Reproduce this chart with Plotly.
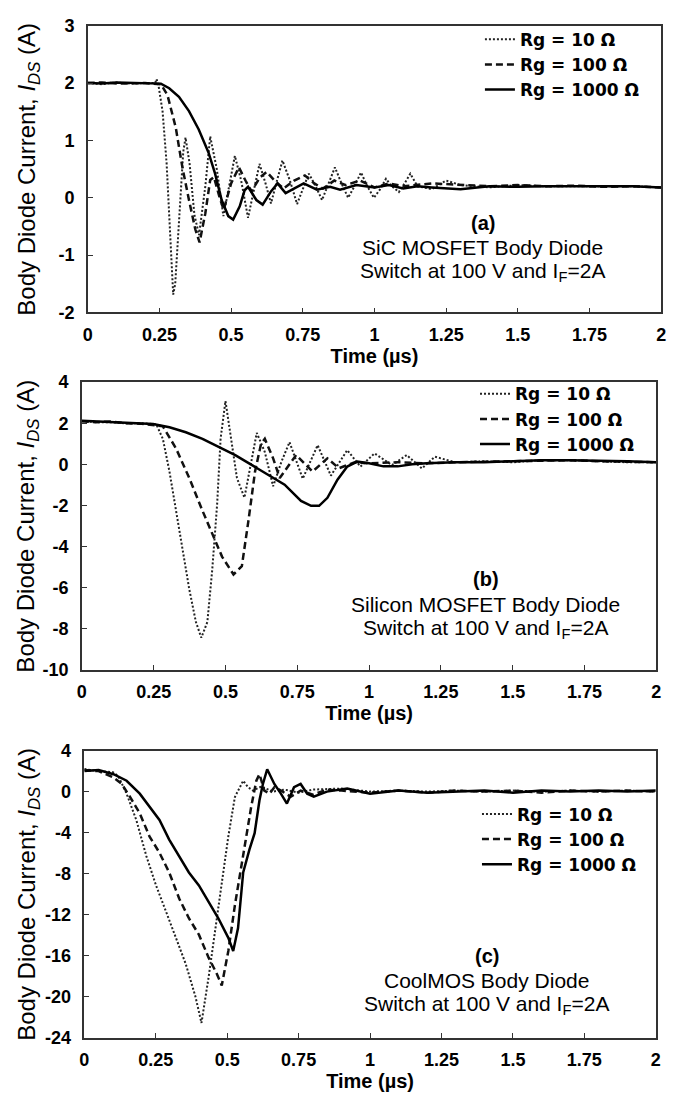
import plotly.graph_objects as go

W, H = 681, 1102

# ---------------- data (a) SiC MOSFET ----------------
t_a_10 = [0, 0.05, 0.1, 0.15, 0.2, 0.235, 0.24, 0.247, 0.261, 0.275, 0.29, 0.298, 0.305, 0.32, 0.333, 0.341,
          0.355, 0.372, 0.388, 0.41, 0.427, 0.45, 0.473, 0.493, 0.513, 0.535, 0.559, 0.58, 0.599, 0.62, 0.639,
          0.66, 0.679, 0.705, 0.73, 0.75, 0.771, 0.795, 0.817, 0.84, 0.862, 0.885, 0.908, 0.93, 0.953, 0.975,
          0.998, 1.02, 1.04, 1.06, 1.085, 1.105, 1.125, 1.15, 1.2, 1.25, 1.3, 1.4, 1.5, 1.6, 1.7, 1.8, 1.9, 2.0]
i_a_10 = [2.0, 1.98, 2.01, 1.99, 2.0, 2.0, 2.07, 1.95, 1.5, 0.6, -0.9, -1.69, -1.5, -0.2, 0.8, 1.05,
          0.6, -0.3, -0.65, 0.2, 1.07, 0.5, -0.32, 0.2, 0.73, 0.3, -0.35, 0.15, 0.59, 0.25, -0.1,
          0.3, 0.65, 0.3, -0.11, 0.15, 0.42, 0.2, -0.04, 0.25, 0.53, 0.25, 0.0, 0.2, 0.44, 0.2,
          0.0, 0.15, 0.33, 0.2, 0.1, 0.25, 0.42, 0.2, 0.15, 0.3, 0.22, 0.18, 0.22, 0.2, 0.2, 0.19, 0.2, 0.18]

t_a_100 = [0, 0.05, 0.1, 0.15, 0.2, 0.255, 0.278, 0.307, 0.33, 0.353, 0.375, 0.39, 0.41, 0.427, 0.44, 0.46,
           0.474, 0.5, 0.527, 0.55, 0.571, 0.6, 0.624, 0.655, 0.683, 0.72, 0.757, 0.79, 0.82, 0.86, 0.9,
           0.95, 1.0, 1.05, 1.1, 1.2, 1.3, 1.4, 1.5, 1.6, 1.7, 1.8, 1.9, 2.0]
i_a_100 = [2.0, 2.01, 1.99, 2.0, 2.0, 1.98, 1.79, 1.22, 0.53, -0.04, -0.55, -0.78, -0.27, 0.31, 0.36, 0.0,
           -0.21, 0.25, 0.53, 0.3, 0.11, 0.35, 0.45, 0.28, 0.16, 0.3, 0.39, 0.25, 0.16, 0.3, 0.22,
           0.3, 0.18, 0.25, 0.2, 0.25, 0.22, 0.2, 0.22, 0.2, 0.21, 0.19, 0.2, 0.18]

t_a_1000 = [0, 0.05, 0.1, 0.15, 0.2, 0.255, 0.284, 0.318, 0.353, 0.387, 0.421, 0.444, 0.467, 0.49, 0.507,
            0.53, 0.547, 0.559, 0.588, 0.61, 0.639, 0.662, 0.69, 0.719, 0.753, 0.799, 0.845, 0.88, 0.937,
            1.0, 1.05, 1.1, 1.15, 1.2, 1.3, 1.4, 1.5, 1.6, 1.7, 1.8, 1.9, 2.0]
i_a_1000 = [2.0, 1.99, 2.01, 2.0, 2.0, 1.99, 1.91, 1.76, 1.51, 1.19, 0.79, 0.42, -0.04, -0.32, -0.38,
            -0.15, 0.13, 0.19, -0.04, -0.12, 0.11, 0.25, 0.08, 0.16, 0.25, 0.14, 0.19, 0.14, 0.22,
            0.18, 0.22, 0.16, 0.2, 0.18, 0.15, 0.2, 0.19, 0.2, 0.2, 0.19, 0.2, 0.18]

# ---------------- data (b) Silicon MOSFET ----------------
t_b_10 = [0, 0.05, 0.1, 0.15, 0.2, 0.259, 0.282, 0.305, 0.328, 0.351, 0.374, 0.397, 0.416, 0.437, 0.454,
          0.471, 0.483, 0.5, 0.517, 0.54, 0.566, 0.586, 0.609, 0.637, 0.666, 0.695, 0.723, 0.769, 0.821,
          0.867, 0.924, 0.97, 1.019, 1.08, 1.131, 1.184, 1.229, 1.3, 1.4, 1.5, 1.6, 1.7, 1.8, 1.9, 2.0]
i_b_10 = [2.1, 2.05, 2.05, 2.0, 2.0, 1.95, 1.24, -0.35, -2.26, -4.17, -6.08, -7.67, -8.44, -7.67, -5.12,
          -1.94, 1.24, 3.08, 1.56, -0.67, -1.62, -0.19, 1.53, 0.6, -1.07, 0.13, 1.08, -0.7, 0.93,
          -0.55, 0.69, -0.11, 0.53, -0.04, 0.45, -0.2, 0.37, 0.1, 0.15, 0.1, 0.2, 0.2, 0.15, 0.1, 0.1]

t_b_100 = [0, 0.05, 0.1, 0.15, 0.2, 0.25, 0.282, 0.328, 0.374, 0.42, 0.454, 0.488, 0.528, 0.557, 0.58,
           0.603, 0.624, 0.637, 0.666, 0.689, 0.746, 0.803, 0.855, 0.895, 0.95, 1.0, 1.1, 1.2, 1.3, 1.4,
           1.5, 1.6, 1.7, 1.8, 1.9, 2.0]
i_b_100 = [2.1, 2.05, 2.08, 2.0, 1.98, 1.92, 1.85, 0.77, -0.67, -2.26, -3.37, -4.49, -5.36, -4.96, -2.74,
           -0.35, 1.0, 1.24, 0.29, -0.67, 0.45, -0.35, 0.29, -0.19, 0.1, 0.05, 0.1, 0.05, 0.1, 0.12,
           0.15, 0.18, 0.2, 0.15, 0.12, 0.1]

t_b_1000 = [0, 0.0757, 0.15, 0.248, 0.305, 0.362, 0.42, 0.477, 0.534, 0.591, 0.649, 0.706, 0.763, 0.798,
            0.826, 0.855, 0.89, 0.924, 0.959, 1.0, 1.05, 1.1, 1.15, 1.2, 1.3, 1.4, 1.5, 1.6, 1.7, 1.8, 1.9, 2.0]
i_b_1000 = [2.12, 2.07, 2.02, 1.96, 1.8, 1.56, 1.24, 0.85, 0.45, -0.03, -0.51, -0.99, -1.78, -2.02,
            -2.02, -1.63, -0.75, -0.11, 0.13, 0.05, -0.1, -0.1, 0.0, 0.05, 0.1, 0.1, 0.15, 0.2, 0.2, 0.18, 0.15, 0.1]

# ---------------- data (c) CoolMOS ----------------
t_c_10 = [0, 0.05, 0.1, 0.119, 0.148, 0.182, 0.217, 0.251, 0.286, 0.32, 0.355, 0.389, 0.41, 0.435, 0.458,
          0.481, 0.504, 0.527, 0.556, 0.573, 0.59, 0.62, 0.66, 0.7, 0.75, 0.8, 0.9, 1.0, 1.1, 1.2, 1.3,
          1.4, 1.5, 1.6, 1.7, 1.8, 1.9, 2.0]
i_c_10 = [2.2, 2.0, 1.9, 1.5, -0.2, -2.77, -6.28, -9.15, -11.7, -14.26, -16.81, -20.0, -22.56, -18.09, -13.63,
          -8.84, -4.36, -0.52, 1.06, 0.43, 0.11, 0.5, 0.0, 0.2, -0.1, 0.2, 0.3, 0.0, 0.1, 0.0, 0.1,
          0.0, 0.1, 0.0, 0.1, 0.0, 0.1, 0.0]

t_c_100 = [0, 0.05, 0.102, 0.131, 0.16, 0.194, 0.228, 0.263, 0.297, 0.332, 0.366, 0.401, 0.435, 0.464,
           0.481, 0.504, 0.527, 0.55, 0.567, 0.584, 0.602, 0.613, 0.63, 0.648, 0.665, 0.688, 0.722, 0.757,
           0.8, 0.85, 0.9, 1.0, 1.1, 1.2, 1.3, 1.4, 1.5, 1.6, 1.7, 1.8, 1.9, 2.0]
i_c_100 = [2.1, 2.0, 1.38, 0.75, -0.52, -2.12, -4.36, -5.96, -7.88, -10.43, -12.35, -13.95, -16.19, -17.78,
           -18.9, -15.54, -11.07, -7.24, -4.68, -1.49, 1.06, 1.7, 0.1, -0.2, 0.43, 0.11, -0.5, 0.1,
           -0.3, 0.2, 0.1, -0.1, 0.1, -0.1, 0.1, 0.0, 0.1, -0.1, 0.1, 0.0, 0.1, 0.0]

t_c_1000 = [0, 0.05, 0.102, 0.148, 0.194, 0.228, 0.263, 0.297, 0.332, 0.366, 0.401, 0.435, 0.469, 0.504,
            0.521, 0.538, 0.556, 0.578, 0.596, 0.613, 0.625, 0.64, 0.665, 0.688, 0.709, 0.734, 0.757, 0.78,
            0.803, 0.849, 0.92, 1.0, 1.1, 1.2, 1.3, 1.4, 1.5, 1.6, 1.7, 1.8, 1.9, 2.0]
i_c_1000 = [2.02, 2.1, 1.7, 1.06, -0.2, -1.49, -2.77, -4.68, -6.28, -7.88, -9.15, -10.75, -12.35, -14.26,
            -15.54, -13.3, -7.88, -5.64, -4.05, -0.85, 0.75, 2.18, 0.75, -0.2, -1.17, 0.43, 0.75, -0.2,
            -0.5, 0.0, 0.3, -0.2, 0.1, -0.1, 0.0, 0.1, -0.1, 0.1, 0.0, 0.1, 0.0, 0.1]

legend_names = ["Rg = 10 \u03a9", "Rg = 100 \u03a9", "Rg = 1000 \u03a9"]
x_ticks = [0, 0.25, 0.5, 0.75, 1, 1.25, 1.5, 1.75, 2]
x_tick_text = ["0", "0.25", "0.5", "0.75", "1", "1.25", "1.5", "1.75", "2"]
y_ticks = [[-2, -1, 0, 1, 2, 3], [-10, -8, -6, -4, -2, 0, 2, 4], [-24, -20, -16, -12, -8, -4, 0, 4]]
y_ranges = [(-2, 3), (-10, 4), (-24, 4)]
panel_labels = ["(a)", "(b)", "(c)"]
device_names = ["SiC MOSFET Body Diode", "Silicon MOSFET Body Diode", "CoolMOS Body Diode"]

series = [
    [(t_a_10, i_a_10), (t_a_100, i_a_100), (t_a_1000, i_a_1000)],
    [(t_b_10, i_b_10), (t_b_100, i_b_100), (t_b_1000, i_b_1000)],
    [(t_c_10, i_c_10), (t_c_100, i_c_100), (t_c_1000, i_c_1000)],
]

# ---------------- layout geometry (pixels) ----------------
boxes = [  # left, right, top, bottom
    (84, 666, 16, 308),
    (78, 661, 379, 672),
    (80.5, 660.5, 754.3, 1046.7),
]
legend_pos = [(482, 12), (477, 373), (479, 801)]
note_pos = [(485, 217), (488, 580), (489, 963)]

FONT = "Liberation Sans, Arial, sans-serif"
LEGFONT = "DejaVu Sans, Liberation Sans, sans-serif"
styles = [
    dict(color="#222", width=2.0, dash="2px,2px"),
    dict(color="#111", width=2.5, dash="7px,4px"),
    dict(color="#000", width=2.5, dash="solid"),
]

fig = go.Figure()
layout = dict(
    width=W, height=H, margin=dict(l=0, r=0, t=0, b=0),
    paper_bgcolor="white", plot_bgcolor="white",
    font=dict(family=FONT, color="black"),
    annotations=[],
)

def px(x):
    return x / W

def py(y):
    return 1 - y / H

for k in range(3):
    sfx = "" if k == 0 else str(k + 1)
    leg = "legend" if k == 0 else "legend" + str(k + 1)
    for j, (tt, ii) in enumerate(series[k]):
        fig.add_trace(go.Scatter(
            x=tt, y=ii, mode="lines", name=legend_names[j],
            line=styles[j], xaxis="x" + sfx, yaxis="y" + sfx,
            legend=leg, showlegend=True,
        ))
    L, R, T, B = boxes[k]
    lo, hi = y_ranges[k]
    layout["xaxis" + sfx] = dict(
        domain=[px(L), px(R)], range=[0, 2], anchor="y" + sfx,
        tickvals=x_ticks, ticktext=x_tick_text,
        ticks="inside", ticklen=5, tickcolor="#333", tickwidth=1,
        showline=True, linecolor="#333", linewidth=1.5, mirror=True,
        showgrid=False, zeroline=False,
        tickfont=dict(family=FONT, size=18, color="black", weight="bold"),
        ticklabelstandoff=5,
        title=dict(text="<b>Time (\u00b5s)</b>", font=dict(family=FONT, size=20, color="black"), standoff=0),
    )
    layout["yaxis" + sfx] = dict(
        domain=[py(B), py(T)], range=[lo, hi], anchor="x" + sfx,
        tickvals=y_ticks[k], ticktext=[str(v) for v in y_ticks[k]],
        ticks="inside", ticklen=5, tickcolor="#333", tickwidth=1,
        showline=True, linecolor="#333", linewidth=1.5, mirror=True,
        showgrid=False, zeroline=False,
        tickfont=dict(family=FONT, size=18, color="black", weight="bold"),
        ticklabelstandoff=8,
    )
    lx, ly = legend_pos[k]
    layout[leg] = dict(
        x=px(lx), y=py(ly), xanchor="left", yanchor="top",
        bgcolor="rgba(0,0,0,0)", borderwidth=0,
        font=dict(family=LEGFONT, size=17, color="black", weight="bold"),
        itemwidth=30, tracegroupgap=0,
    )
    nx, ny = note_pos[k]
    layout["annotations"] += [
        dict(xref="paper", yref="paper", x=px(nx), y=py(ny), text="<b>" + panel_labels[k] + "</b>",
             showarrow=False, font=dict(family=FONT, size=20, color="black"), xanchor="center", yanchor="middle"),
        dict(xref="paper", yref="paper", x=px(nx), y=py(ny + 25), text=device_names[k],
             showarrow=False, font=dict(family=FONT, size=21, color="black"), xanchor="center", yanchor="middle"),
        dict(xref="paper", yref="paper", x=px(nx), y=py(ny + 50),
             text="Switch at 100 V and I<sub>F</sub>=2A",
             showarrow=False, font=dict(family=FONT, size=21, color="black"), xanchor="center", yanchor="middle"),
        dict(xref="paper", yref="paper", x=px(23), y=py((T + B) / 2),
             text="Body Diode Current, <i>I</i><sub><i>DS</i></sub> (A)", textangle=-90,
             showarrow=False, font=dict(family=FONT, size=24, color="black"), xanchor="center", yanchor="middle"),
    ]

fig.update_layout(**layout)
fig.write_html("out.html")
